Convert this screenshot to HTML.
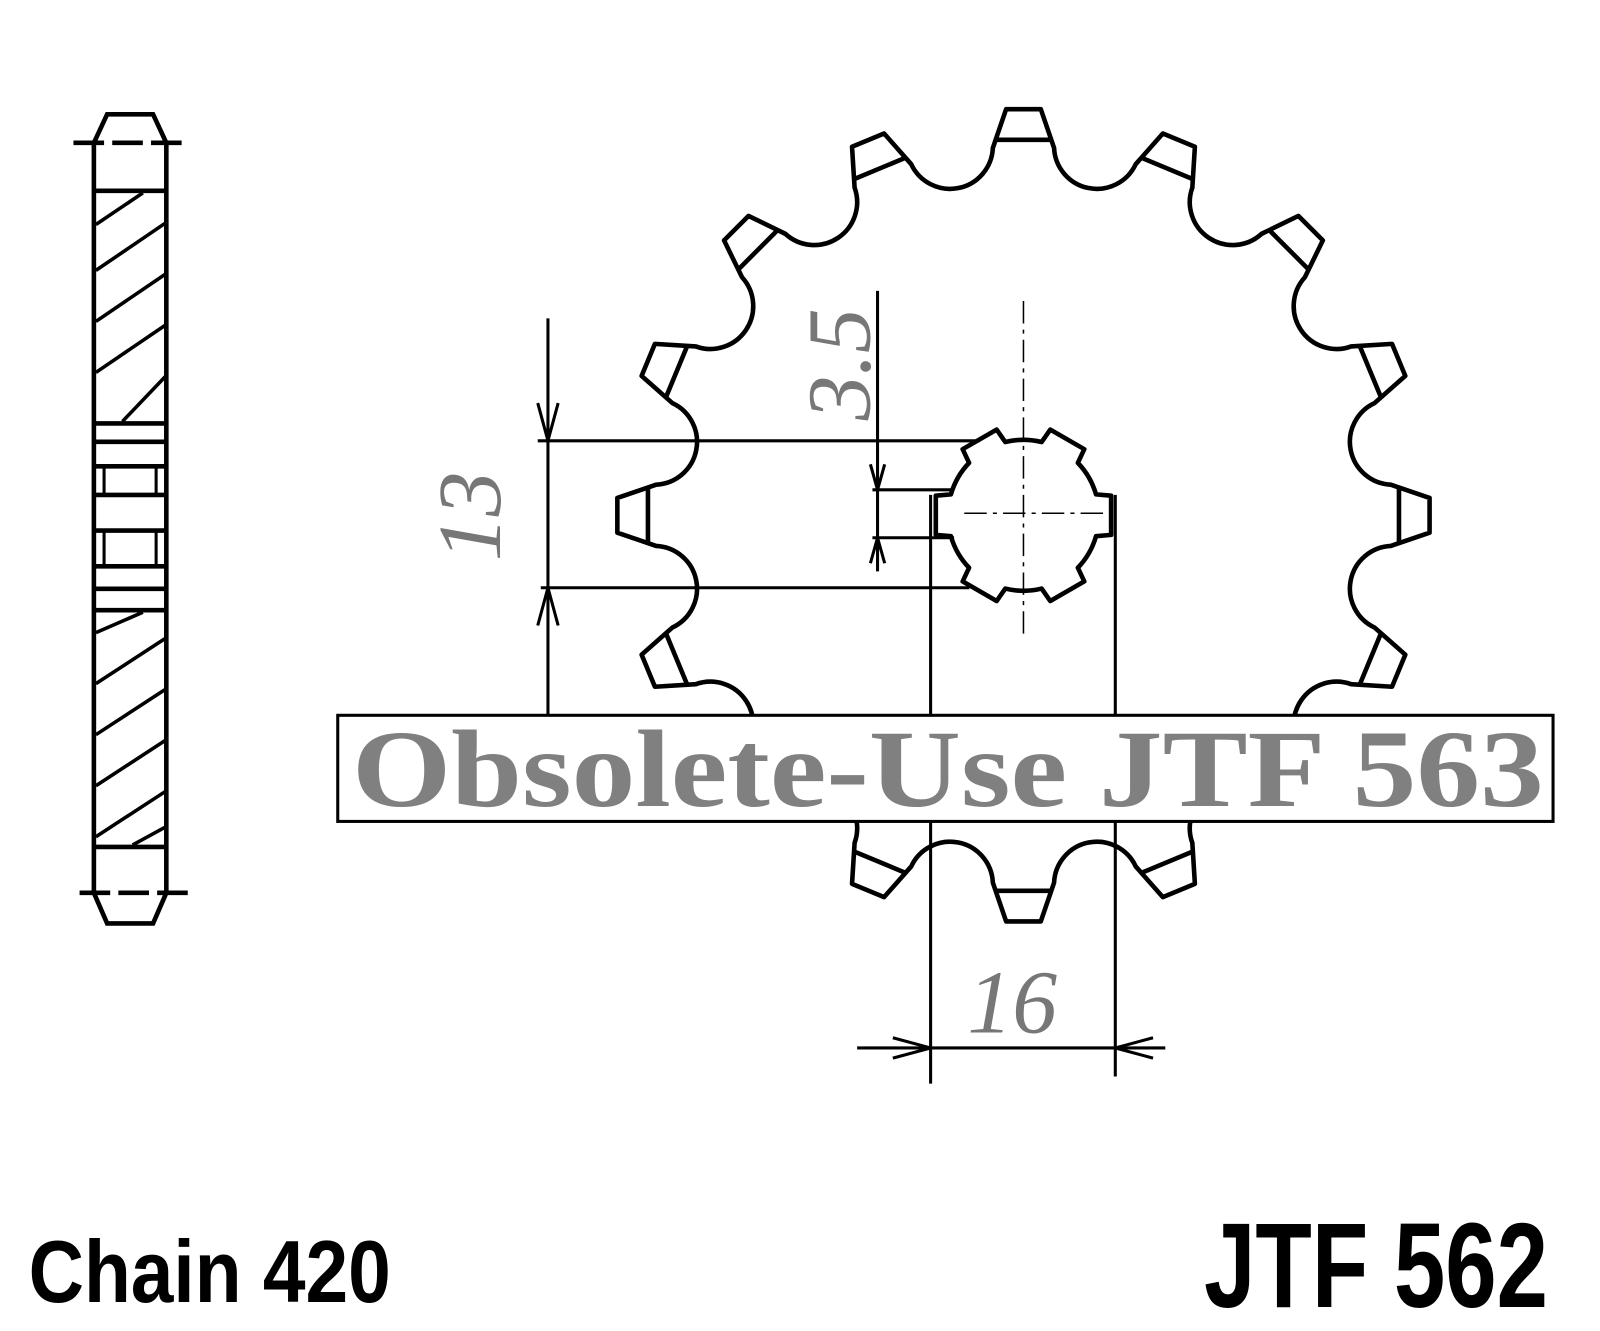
<!DOCTYPE html>
<html><head><meta charset="utf-8"><style>html,body{margin:0;padding:0;background:#fff}svg{display:block}</style></head>
<body>
<svg id="s" width="1600" height="1331" viewBox="0 0 1600 1331" xmlns="http://www.w3.org/2000/svg">
<rect width="1600" height="1331" fill="#fff"/>
<g transform="scale(1.0204)">
<g id="sp" fill="none" stroke="#000" stroke-width="4.5" stroke-linejoin="round"></g>
<g fill="none" stroke="#000" stroke-width="4.5">
<path d="M92 140 L105 112 L150 112 L163 140 L163 875 L150 905 L105 905 L92 875 Z"/>
<line x1="72" y1="140" x2="185" y2="140" stroke-dasharray="30 8"/>
<line x1="78" y1="875" x2="185" y2="875" stroke-dasharray="30 8"/>
<line x1="92" y1="187" x2="163" y2="187"/>
<line x1="92" y1="415" x2="163" y2="415"/>
<line x1="92" y1="433" x2="163" y2="433"/>
<line x1="92" y1="457" x2="163" y2="457"/>
<line x1="92" y1="485" x2="163" y2="485"/>
<line x1="92" y1="520" x2="163" y2="520"/>
<line x1="92" y1="555" x2="163" y2="555"/>
<line x1="92" y1="577" x2="163" y2="577"/>
<line x1="92" y1="598" x2="163" y2="598"/>
<line x1="92" y1="830" x2="163" y2="830"/>
<line x1="102" y1="457" x2="102" y2="485" stroke-width="3"/><line x1="153" y1="457" x2="153" y2="485" stroke-width="3"/>
<line x1="102" y1="520" x2="102" y2="555" stroke-width="3"/><line x1="153" y1="520" x2="153" y2="555" stroke-width="3"/>
<g stroke-width="3.5">
<line x1="94" y1="220" x2="140" y2="189"/>
<line x1="94" y1="265" x2="163" y2="218"/>
<line x1="94" y1="315" x2="163" y2="268"/>
<line x1="94" y1="365" x2="163" y2="318"/>
<line x1="120" y1="413" x2="163" y2="368"/>
<line x1="94" y1="620" x2="140" y2="600"/>
<line x1="94" y1="670" x2="163" y2="625"/>
<line x1="94" y1="720" x2="163" y2="675"/>
<line x1="94" y1="770" x2="163" y2="725"/>
<line x1="94" y1="820" x2="163" y2="775"/>
<line x1="130" y1="828" x2="163" y2="810"/>
</g>
</g>
<g stroke="#000" stroke-width="3" fill="none">
<line x1="537" y1="312" x2="537" y2="700"/>
<line x1="527" y1="432" x2="960" y2="432"/>
<line x1="530" y1="576" x2="950" y2="576"/>
<path d="M527 395 L537 432 L547 395"/><path d="M527 613 L537 576 L547 613"/>
<line x1="860" y1="285" x2="860" y2="560"/>
<line x1="855" y1="480" x2="935" y2="480"/>
<line x1="855" y1="527" x2="935" y2="527"/>
<path d="M853 455 L860 480 L867 455"/><path d="M853 552 L860 527 L867 552"/>
<line x1="912" y1="485" x2="912" y2="1062"/>
<line x1="1093" y1="485" x2="1093" y2="1055"/>
<line x1="840" y1="1027" x2="1142" y2="1027"/>
<path d="M875 1017 L912 1027 L875 1037"/><path d="M1130 1017 L1093 1027 L1130 1037"/>
</g>
<g stroke="#000" stroke-width="1.5" stroke-dasharray="22 6 4 6" fill="none">
<line x1="1003" y1="295" x2="1003" y2="625"/>
<line x1="945" y1="503" x2="1085" y2="503"/>
</g>
<g font-family="Liberation Serif, serif" font-style="italic" fill="#777" font-size="88">
<text transform="translate(490,550) rotate(-90)">13</text>
<text transform="translate(852,412) rotate(-90)">3.5</text>
<text x="948" y="1012">16</text>
</g>
<rect x="331" y="701" width="1191" height="104" fill="#fff" stroke="#000" stroke-width="3"/>
<text x="345" y="790" font-family="Liberation Serif, serif" font-weight="bold" font-size="108" fill="#808080" textLength="1168" lengthAdjust="spacingAndGlyphs">Obsolete-Use JTF 563</text>
<text x="28" y="1276" font-family="Liberation Sans, sans-serif" font-weight="bold" font-size="86" fill="#000" textLength="355" lengthAdjust="spacingAndGlyphs">Chain 420</text>
<text x="1180" y="1281" font-family="Liberation Sans, sans-serif" font-weight="bold" font-size="118" fill="#000" textLength="337" lengthAdjust="spacingAndGlyphs">JTF 562</text>
</g>
</svg>
<script>
(function(){
var cx=1003,cy=505,N=16,ns="http://www.w3.org/2000/svg";
var g=document.getElementById('sp');
function P(a,r,t){
 var ux=Math.sin(a),uy=-Math.cos(a),tx=Math.cos(a),ty=Math.sin(a);
 return [cx+ux*r+tx*t,cy+uy*r+ty*t];}
var d="",chords="";
for(var i=0;i<N;i++){
 var a=i*2*Math.PI/N;
 var L=P(a,360,-30),TL=P(a,398,-17),TR=P(a,398,17),R=P(a,360,30);
 var nL=P(a+2*Math.PI/N,360,-30);
 d+=(i==0?"M":"L")+L[0].toFixed(1)+" "+L[1].toFixed(1)+" L"+TL[0].toFixed(1)+" "+TL[1].toFixed(1)+" L"+TR[0].toFixed(1)+" "+TR[1].toFixed(1)+" L"+R[0].toFixed(1)+" "+R[1].toFixed(1)+" A42 42 0 0 0 "+nL[0].toFixed(1)+" "+nL[1].toFixed(1)+" ";
 var c1=P(a,368,-26),c2=P(a,368,26);
 chords+="M"+c1[0].toFixed(1)+" "+c1[1].toFixed(1)+" L"+c2[0].toFixed(1)+" "+c2[1].toFixed(1)+" ";
}
d+="Z";
var p=document.createElementNS(ns,"path");p.setAttribute("d",d);g.appendChild(p);
var q=document.createElementNS(ns,"path");q.setAttribute("d",chords);g.appendChild(q);
var hd="",K=6;
for(var k=0;k<K;k++){
 var b=k*2*Math.PI/K+Math.PI/2;
 var pts=[[b-0.28,74],[b-0.22,88],[b+0.22,88],[b+0.28,74]];
 pts.forEach(function(pt,j){var x=cx+Math.sin(pt[0])*pt[1],y=cy-Math.cos(pt[0])*pt[1];
  hd+=((k==0&&j==0)?"M":"L")+x.toFixed(1)+" "+y.toFixed(1)+" ";});
 var nb=(k+1)*2*Math.PI/K+Math.PI/2-0.28;
 hd+="A74 74 0 0 1 "+(cx+Math.sin(nb)*74).toFixed(1)+" "+(cy-Math.cos(nb)*74).toFixed(1)+" ";
}
hd+="Z";
var h=document.createElementNS(ns,"path");h.setAttribute("d",hd);h.setAttribute("fill","#fff");g.appendChild(h);
})();
</script>
</body></html>
